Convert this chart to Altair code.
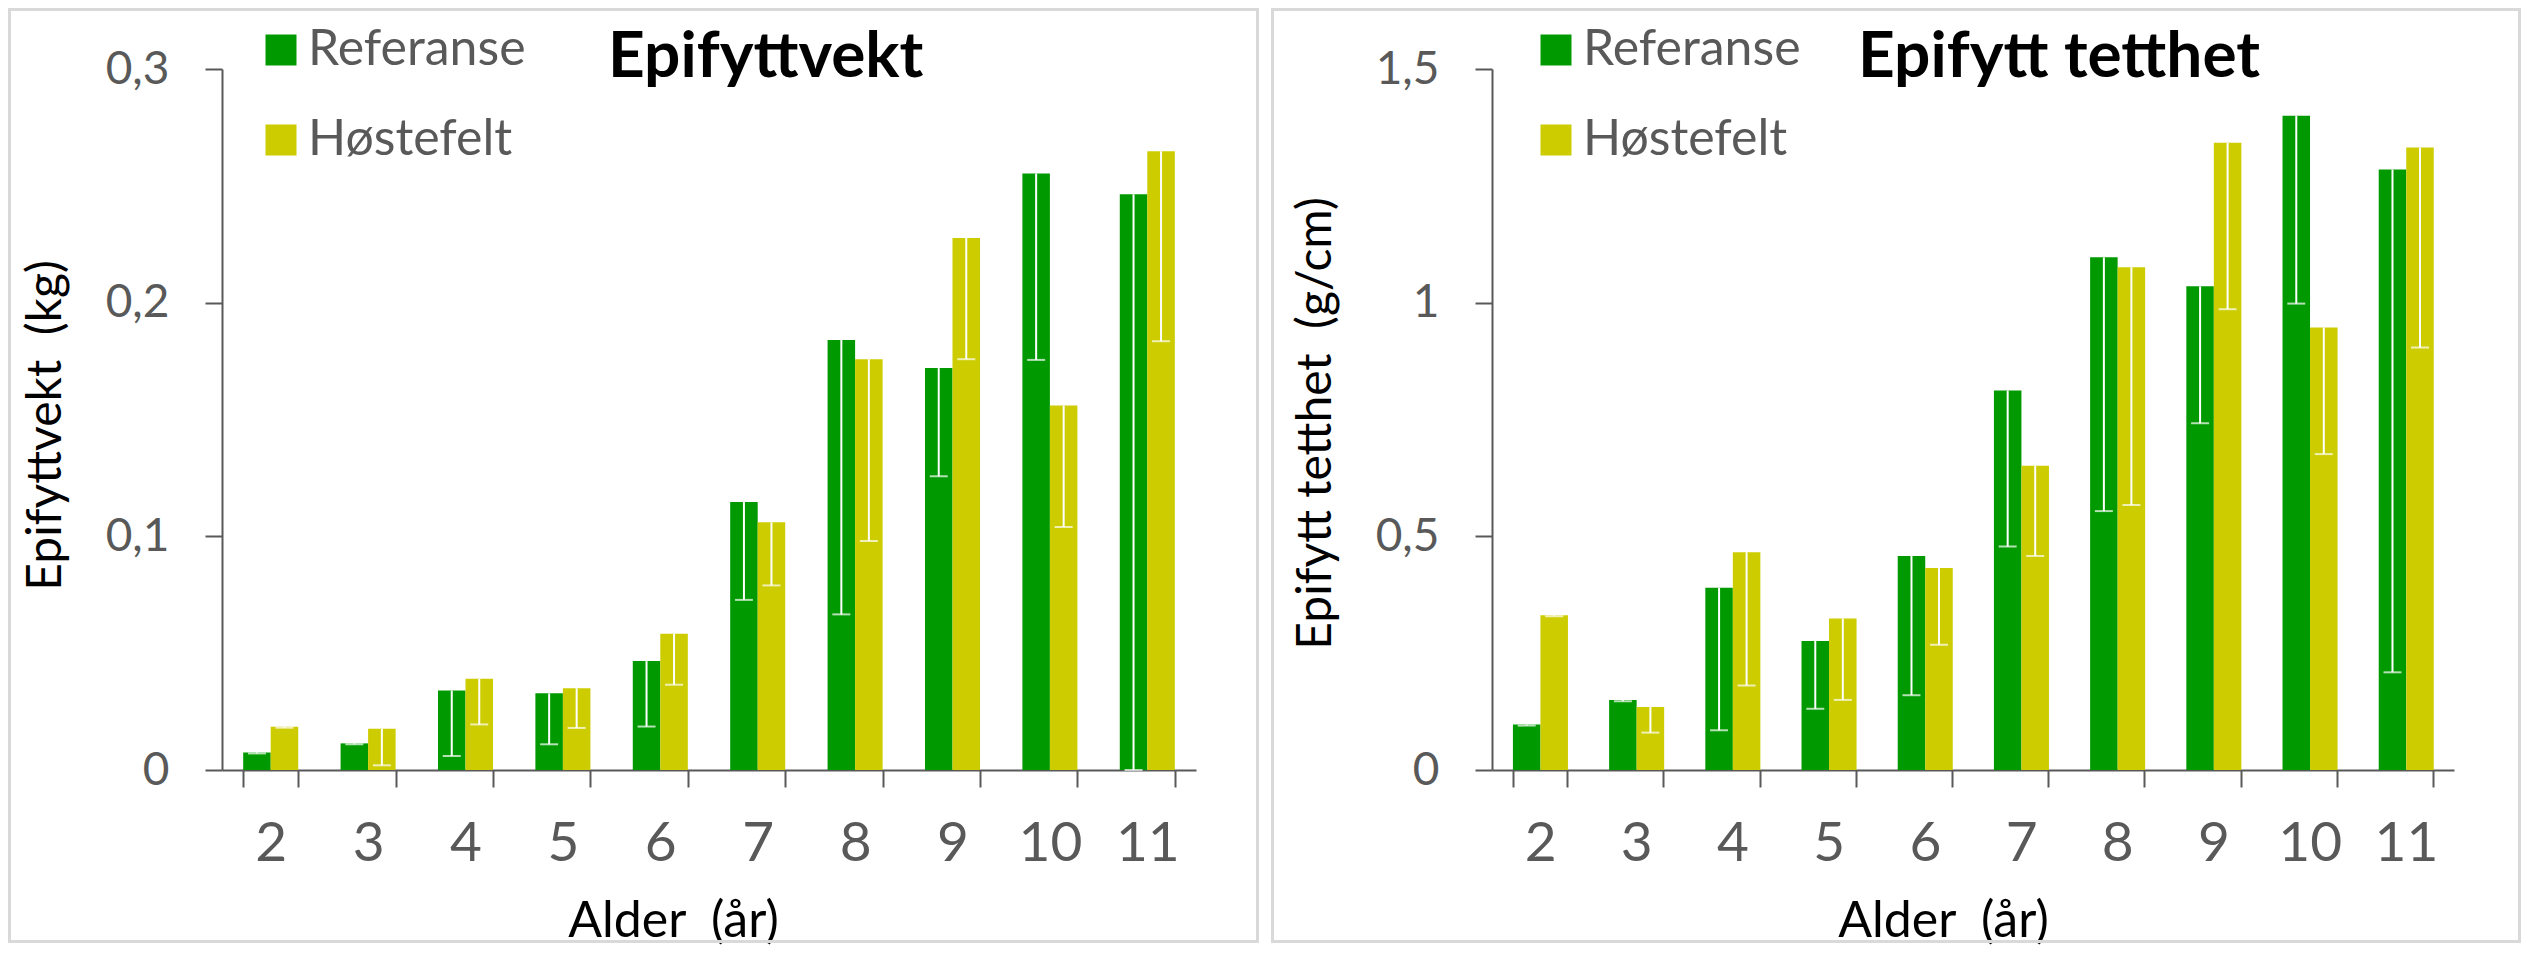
import altair as alt
import pandas as pd

# ---------------- data ----------------
ages = [2, 3, 4, 5, 6, 7, 8, 9, 10, 11]
series = ["Referanse", "Høstefelt"]
colors = ["#009900", "#CCCC00"]

# Epifyttvekt (kg)
vekt_ref = [0.0075, 0.0114, 0.0340, 0.0328, 0.0466, 0.1147, 0.1840, 0.1720, 0.2553, 0.2464]
vekt_ref_low = [0.0071, 0.0110, 0.0060, 0.0110, 0.0186, 0.0728, 0.0666, 0.1257, 0.1755, 0.0]
vekt_host = [0.0185, 0.0176, 0.0390, 0.0350, 0.0583, 0.1060, 0.1758, 0.2277, 0.1560, 0.2648]
vekt_host_low = [0.0181, 0.0020, 0.0195, 0.0180, 0.0365, 0.0790, 0.0980, 0.1758, 0.1040, 0.1835]

# Epifytt tetthet (g/cm)
tett_ref = [0.0972, 0.1497, 0.390, 0.276, 0.458, 0.812, 1.097, 1.035, 1.400, 1.285]
tett_ref_low = [0.095, 0.147, 0.085, 0.131, 0.160, 0.478, 0.554, 0.742, 0.998, 0.209]
tett_host = [0.331, 0.135, 0.466, 0.324, 0.432, 0.651, 1.076, 1.342, 0.947, 1.332]
tett_host_low = [0.329, 0.080, 0.181, 0.150, 0.268, 0.458, 0.567, 0.986, 0.676, 0.904]

FONT = "Lato"
GREY = "#595959"
PLOT_H = 701


def panel(ref, ref_low, host, host_low, ymax, yvals, ytitle, title, width,
          rect_x, rect_x2, ytitle_y, title_x, legend_x):
    df = pd.DataFrame({
        "Alder": ages * 2,
        "Serie": [series[0]] * len(ages) + [series[1]] * len(ages),
        "Verdi": ref + host,
        "Lav": ref_low + host_low,
    })
    base = alt.Chart(df)

    x = alt.X(
        "Alder:O",
        scale=alt.Scale(paddingInner=0.435, paddingOuter=0.2175),
        axis=alt.Axis(
            title="Alder \u00a0(år)",
            labelAngle=0,
            labelFont=FONT,
            labelFontSize=55,
            labelColor=GREY,
            labelBaseline="middle",
            labelPadding=56,
            tickBand="extent",
            tickSize=17,
            tickWidth=2,
            tickColor=GREY,
            domainColor=GREY,
            domainWidth=2,
            grid=False,
            titleFont=FONT,
            titleFontSize=50,
            titleFontWeight="normal",
            titleColor="black",
            titleX=451,
            titleY=166,
            titleAlign="center",
            titleBaseline="alphabetic",
        ),
    )
    y = alt.Y(
        "Verdi:Q",
        scale=alt.Scale(domain=[0, ymax], nice=False, zero=True),
        axis=alt.Axis(
            title=ytitle,
            values=yvals,
            labelExpr="replace(format(datum.value, '~g'), '.', ',')",
            labelFont=FONT,
            labelFontSize=46,
            labelColor=GREY,
            labelPadding=36,
            tickSize=17,
            tickWidth=2,
            tickColor=GREY,
            domainColor=GREY,
            domainWidth=2,
            grid=False,
            titleFont=FONT,
            titleFontSize=48,
            titleFontWeight="normal",
            titleColor="black",
            titleAngle=270,
            titleX=-176,
            titleY=ytitle_y,
            titleAlign="center",
            titleBaseline="middle",
        ),
    )
    xoff = alt.XOffset("Serie:N", scale=alt.Scale(domain=series, paddingInner=0, paddingOuter=0))

    bars = base.mark_bar().encode(
        x=x,
        xOffset=xoff,
        y=y,
        color=alt.Color(
            "Serie:N",
            scale=alt.Scale(domain=series, range=colors),
            legend=alt.Legend(
                title=None,
                orient="none",
                legendX=legend_x,
                legendY=-44,
                symbolType="square",
                symbolSize=961,
                symbolStrokeWidth=0,
                symbolOpacity=1,
                labelFont=FONT,
                labelFontSize=50,
                labelColor=GREY,
                labelOffset=2,
                labelLimit=0,
                rowPadding=40,
                padding=0,
            ),
        ),
    )
    rules = base.mark_rule(color="white", strokeWidth=2).encode(
        x="Alder:O", xOffset=xoff, y="Verdi:Q", y2="Lav:Q"
    )
    caps = base.mark_tick(color="white", thickness=2, size=18, orient="horizontal").encode(
        x="Alder:O", xOffset=xoff, y="Lav:Q"
    )

    border = alt.Chart(alt.Data(values=[{}])).mark_rect(
        fill="white", fillOpacity=0, stroke="#d9d9d9", strokeWidth=3
    ).encode(
        x=alt.value(rect_x), x2=alt.value(rect_x2),
        y=alt.value(-59.5), y2=alt.value(872.5),
    )
    title_mark = alt.Chart(alt.Data(values=[{"t": title}])).mark_text(
        align="left", baseline="alphabetic", font=FONT, fontSize=64,
        fontWeight="bold", color="black"
    ).encode(text="t:N", x=alt.value(title_x), y=alt.value(8))

    return alt.layer(border, bars, rules, caps, title_mark).properties(
        width=width, height=PLOT_H
    )


left = panel(vekt_ref, vekt_ref_low, vekt_host, vekt_host_low, 0.3,
             [0, 0.1, 0.2, 0.3], "Epifyttvekt \u00a0(kg)", "Epifyttvekt",
             974, -212.5, 1035.5, 356, 386, 34)
right = panel(tett_ref, tett_ref_low, tett_host, tett_host_low, 1.5,
              [0, 0.5, 1, 1.5], "Epifytt tetthet \u00a0(g/cm)", "Epifytt tetthet",
              962, -219.5, 1027.5, 354, 366, 39)

chart = alt.hconcat(left, right, spacing=12, padding=0, background="white").resolve_scale(
    color="independent", x="independent", y="independent"
).resolve_legend(color="independent").configure_view(stroke=None)

chart.save("out.html", embed_options={"renderer": "svg", "actions": False})
